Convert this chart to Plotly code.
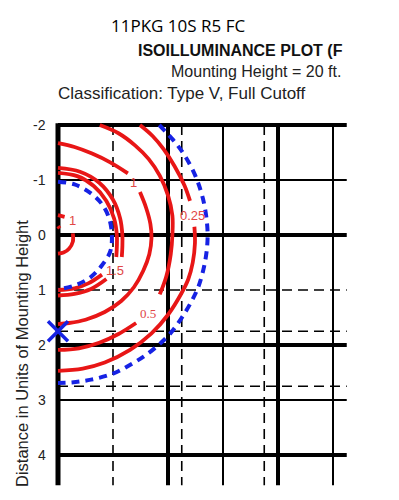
import plotly.graph_objects as go

# page body has an 8px margin; figure sized to fit inside the 399x500 window
OFF = 8
W, H = 399 - 2 * OFF, 500 - 2 * OFF
SX0, SY0, UNIT = 58, 235, 55  # screen pixel of data origin, pixels per unit

# ---------------- grid (units of mounting height) ----------------
thick_x = [0, 2, 4]
thin_x = [3, 5]
dash_x = [1, 2.25, 3.75]
thick_y = [-2, 0, 2, 4]
thin_y = [-1, 3]
dash_y = [1, 1.75, 2.75]
x_left, x_right = 0, 5.25
y_top, y_bottom = -2, 4.55
y_ticks = [-2, -1, 0, 1, 2, 3, 4]
y_tick_labels = ["-2", "-1", "0", "1", "2", "3", "4"]

# ---------------- red isoilluminance contours ----------------
small_top_x = [0, 0.12]
small_top_y = [-0.36, -0.33]
small_dot_x = [0, 0.03]
small_dot_y = [-0.16, -0.12]
small_bot_x = [0.27, 0.27, 0.2, 0.1, 0]
small_bot_y = [-0.03, 0.12, 0.25, 0.32, 0.34]

c15_in_top_x = [0, 0.35, 0.65, 0.88, 1.02, 1.07, 1.07, 1.06]
c15_in_top_y = [-1.13, -1.07, -0.89, -0.62, -0.3, 0.0, 0.22, 0.4]
c15_out_top_x = [0, 0.4, 0.75, 1.0, 1.13, 1.17, 1.17, 1.16]
c15_out_top_y = [-1.22, -1.15, -0.95, -0.64, -0.3, 0.0, 0.22, 0.4]
c15_in_bot_x = [0.8, 0.55, 0.3, 0]
c15_in_bot_y = [0.72, 0.88, 0.97, 1.0]
c15_out_bot_x = [0.88, 0.6, 0.3, 0]
c15_out_bot_y = [0.8, 0.98, 1.07, 1.1]

c1_top_x = [0, 0.3, 0.62, 0.95, 1.27]
c1_top_y = [-1.67, -1.6, -1.48, -1.32, -1.12]
c1_bot_x = [1.49, 1.6, 1.68, 1.7, 1.66, 1.55, 1.38, 1.15, 0.85, 0.5, 0.2, 0]
c1_bot_y = [-0.78, -0.5, -0.2, 0.05, 0.35, 0.65, 0.95, 1.2, 1.4, 1.54, 1.6, 1.62]

c05_top_x = [0.76, 1.1, 1.4, 1.65, 1.85, 2.0, 2.08, 2.08, 2.05, 1.97, 1.85]
c05_top_y = [-2.0, -1.85, -1.63, -1.38, -1.08, -0.72, -0.35, 0.0, 0.35, 0.75, 1.08]
c05_bot_x = [1.42, 1.1, 0.75, 0.38, 0]
c05_bot_y = [1.6, 1.8, 1.96, 2.06, 2.09]

c025_top_x = [1.49, 1.72, 1.92, 2.12, 2.3, 2.4]
c025_top_y = [-2.0, -1.8, -1.56, -1.25, -0.9, -0.62]
c025_bot_x = [2.48, 2.49, 2.45, 2.37, 2.25, 2.0, 1.7, 1.31, 0.85, 0.45, 0]
c025_bot_y = [-0.15, 0.15, 0.5, 0.8, 1.05, 1.45, 1.79, 2.09, 2.32, 2.43, 2.47]

# ---------------- blue dashed circles ----------------
blue_in_x = [0, 0.3, 0.58, 0.8, 0.93, 0.98, 0.95, 0.8, 0.6, 0.35, 0.1, 0]
blue_in_y = [-0.97, -0.92, -0.77, -0.56, -0.3, 0.0, 0.3, 0.55, 0.76, 0.9, 0.97, 0.98]
blue_out_x = [1.84, 2.1, 2.3, 2.5, 2.63, 2.7, 2.72, 2.68, 2.56, 2.42, 2.24, 2.05,
              1.85, 1.6, 1.33, 1.0, 0.6, 0.25, 0]
blue_out_y = [-2.0, -1.72, -1.45, -1.07, -0.68, -0.3, 0.05, 0.45, 0.92, 1.22, 1.52, 1.78,
              1.98, 2.18, 2.35, 2.52, 2.63, 2.68, 2.69]

marker_x = [0]
marker_y = [1.75]

# contour labels
label_text = ["1", "1", "1.5", "0.25", "0.5"]
label_x = [0.27, 1.38, 1.04, 2.44, 1.64]
label_y = [-0.27, -0.96, 0.64, -0.36, 1.42]

RED = "rgb(232,22,22)"
BLUE = "rgb(22,34,228)"

fig = go.Figure()

for xs, ys in [(small_top_x, small_top_y), (small_dot_x, small_dot_y), (small_bot_x, small_bot_y),
               (c15_in_top_x, c15_in_top_y), (c15_out_top_x, c15_out_top_y),
               (c15_in_bot_x, c15_in_bot_y), (c15_out_bot_x, c15_out_bot_y),
               (c1_top_x, c1_top_y), (c1_bot_x, c1_bot_y),
               (c05_top_x, c05_top_y), (c05_bot_x, c05_bot_y),
               (c025_top_x, c025_top_y), (c025_bot_x, c025_bot_y)]:
    fig.add_trace(go.Scatter(x=xs, y=ys, mode="lines", line=dict(color=RED, width=3.8, shape="spline"),
                             hoverinfo="skip", showlegend=False))

for xs, ys in [(blue_in_x, blue_in_y), (blue_out_x, blue_out_y)]:
    fig.add_trace(go.Scatter(x=xs, y=ys, mode="lines",
                             line=dict(color=BLUE, width=4, dash="8px,6px", shape="spline"),
                             hoverinfo="skip", showlegend=False))

fig.add_trace(go.Scatter(x=marker_x, y=marker_y, mode="markers",
                         marker=dict(symbol="x-thin", size=20, line=dict(color=BLUE, width=3.5)),
                         hoverinfo="skip", showlegend=False, cliponaxis=False))

for t, lx, ly in zip(label_text, label_x, label_y):
    fam = "Liberation Serif" if t == "0.5" else "Liberation Sans"
    fig.add_annotation(x=lx, y=ly, text=t, showarrow=False,
                       font=dict(family=fam, size=13, color="rgb(225,70,70)"))

# grid shapes
shapes = []
for gx in thick_x:
    shapes.append(dict(type="line", x0=gx, x1=gx, y0=y_top - 0.03, y1=y_bottom,
                       line=dict(color="black", width=5 if gx == 0 else 4), layer="below"))
for gx in thin_x:
    shapes.append(dict(type="line", x0=gx, x1=gx, y0=y_top, y1=y_bottom,
                       line=dict(color="black", width=2), layer="below"))
for gx in dash_x:
    shapes.append(dict(type="line", x0=gx, x1=gx, y0=y_top, y1=y_bottom,
                       line=dict(color="black", width=1.6, dash="10px,6px"), layer="below"))
for gy in thick_y:
    shapes.append(dict(type="line", x0=x_left, x1=x_right, y0=gy, y1=gy,
                       line=dict(color="black", width=4), layer="below"))
for gy in thin_y:
    shapes.append(dict(type="line", x0=x_left, x1=x_right, y0=gy, y1=gy,
                       line=dict(color="black", width=1.8), layer="below"))
for gy in dash_y:
    shapes.append(dict(type="line", x0=x_left, x1=x_right, y0=gy, y1=gy,
                       line=dict(color="black", width=1.6, dash="10px,6px"), layer="below"))

for v, t in zip(y_ticks, y_tick_labels):
    fig.add_annotation(x=-0.18, y=v, text=t, showarrow=False, xanchor="right", yanchor="middle",
                       font=dict(family="Liberation Sans", size=14, color="#222"))

def px(sx):
    return (sx - OFF) / W

def py(sy):
    return 1 - (sy - OFF) / H

texts = [
    ("11PKG 10S R5 FC", 178, 26, "Open Sans", 17, "black", "center"),
    ("<b>ISOILLUMINANCE PLOT (F</b>", 345, 50, "Liberation Sans", 16, "#111", "right"),
    ("Mounting Height = 20 ft.", 343, 71, "Liberation Sans", 16, "#222", "right"),
    ("Classification: Type V, Full Cutoff", 56, 94, "Liberation Sans", 17, "#222", "left"),
]
for t, x, y, fam, sz, col, anc in texts:
    fig.add_annotation(xref="paper", yref="paper", x=px(x), y=py(y), text=t, showarrow=False,
                       xanchor=anc, yanchor="middle", font=dict(family=fam, size=sz, color=col))

fig.add_annotation(xref="paper", yref="paper", x=px(22), y=py(354),
                   xanchor="center", yanchor="middle",
                   text="Distance in Units of Mounting Height", textangle=-90, showarrow=False,
                   font=dict(family="Liberation Sans", size=16.5, color="#222"))

fig.update_layout(
    width=W, height=H, margin=dict(l=0, r=0, t=0, b=0),
    paper_bgcolor="white", plot_bgcolor="white", shapes=shapes,
    xaxis=dict(range=[(OFF - SX0) / UNIT, (OFF + W - SX0) / UNIT], visible=False, fixedrange=True),
    yaxis=dict(range=[(OFF + H - SY0) / UNIT, (OFF - SY0) / UNIT], visible=False, fixedrange=True),
)

fig.write_html("out.html")
